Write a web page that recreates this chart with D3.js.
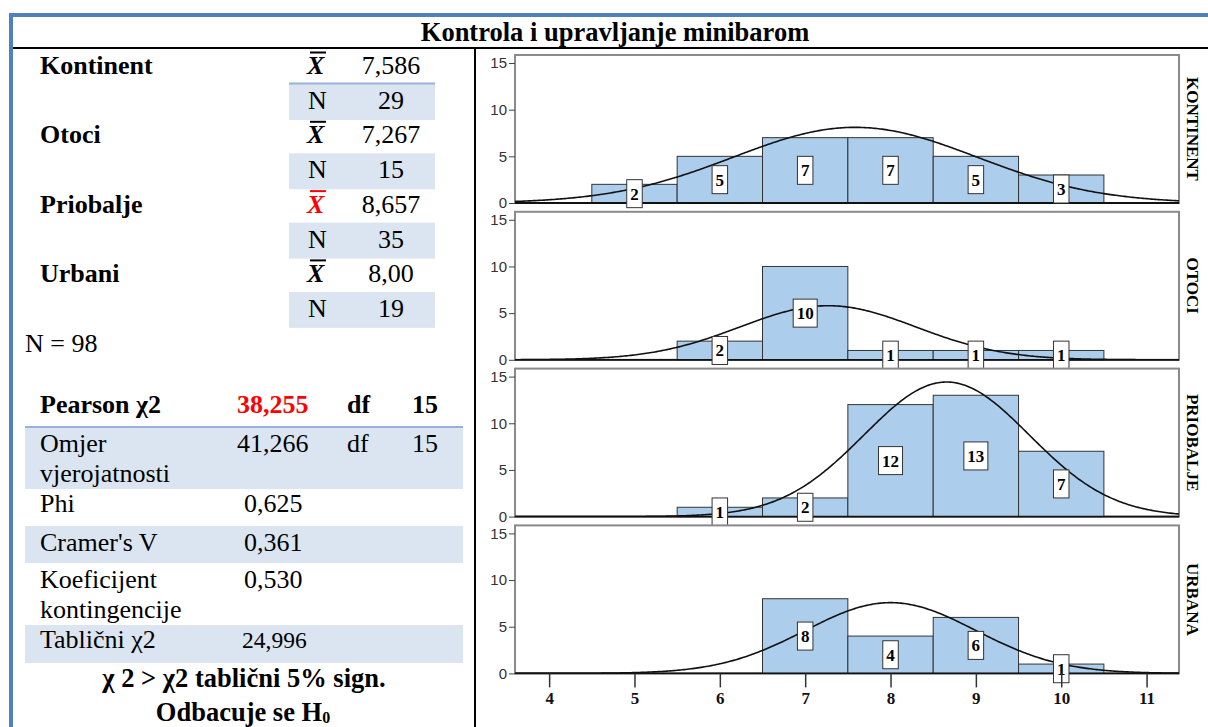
<!DOCTYPE html>
<html>
<head>
<meta charset="utf-8">
<script src="https://cdn.jsdelivr.net/npm/d3@7"></script>
<style>
  html, body { margin: 0; padding: 0; background: #fff; }
  svg { display: block; }
  .serif, .serif text { font-family: "Liberation Serif", "Times New Roman", Tinos, "DejaVu Serif", "Noto Serif", serif !important; }
  .sans, .sans text { font-family: "Liberation Sans", Arial, "DejaVu Sans", sans-serif !important; }
  .yax text { font-size: 15px !important; fill: #333; }
  .xax text { font-size: 17px !important; font-weight: bold; fill: #111; }
</style>
</head>
<body>
<svg id="chart" width="1208" height="727"></svg>
<script>
// ---------------- DATA ----------------
const title = "Kontrola i upravljanje minibarom";
const groups = ["Kontinent", "Otoci", "Priobalje", "Urbani"];
const groupMeans = ["7,586", "7,267", "8,657", "8,00"];
const groupN = ["29", "15", "35", "19"];
const totalN = "N = 98";

const statLabels = [["Omjer", "vjerojatnosti"], ["Phi"], ["Cramer's V"], ["Koeficijent", "kontingencije"], ["Tablični χ2"]];
const statValues = ["41,266", "0,625", "0,361", "0,530", "24,996"];
const statDf = ["15", "", "", "", ""];
const pearsonValue = "38,255";
const pearsonDf = "15";

const panelNames = ["KONTINENT", "OTOCI", "PRIOBALJE", "URBANA"];
const grades = [4, 5, 6, 7, 8, 9, 10, 11];          // x tick labels
const binValues = [5, 6, 7, 8, 9, 10];               // histogram bins (width 1)
const countsKontinent = [2, 5, 7, 7, 5, 3];
const countsOtoci     = [0, 2, 10, 1, 1, 1];
const countsPriobalje = [0, 1, 2, 12, 13, 7];
const countsUrbana    = [0, 0, 8, 4, 6, 1];
const panelCounts = [countsKontinent, countsOtoci, countsPriobalje, countsUrbana];
const yTicks = [0, 5, 10, 15];

// ---------------- DRAW ----------------
const svg = d3.select("#chart");
const blue = "#4f81bd", band = "#dbe5f1", bandLine = "#95b3d7";

// outer border & title
svg.append("rect").attr("x", 9).attr("y", 13).attr("width", 1199).attr("height", 4).attr("fill", blue);
svg.append("rect").attr("x", 9).attr("y", 13).attr("width", 4).attr("height", 714).attr("fill", blue);
svg.append("text").attr("class", "serif").attr("x", 615).attr("y", 41).attr("text-anchor", "middle")
  .attr("font-size", 26.5).attr("font-weight", "bold").text(title);
svg.append("line").attr("x1", 13).attr("x2", 1208).attr("y1", 48).attr("y2", 48).attr("stroke", "#000").attr("stroke-width", 2);
svg.append("line").attr("x1", 475).attr("x2", 475).attr("y1", 48).attr("y2", 727).attr("stroke", "#000").attr("stroke-width", 2);

// ---- left table: group means ----
const L = svg.append("g").attr("class", "serif");
const rowStep = 69.3;
groups.forEach((g, i) => {
  const by = 74 + i * rowStep;
  L.append("rect").attr("x", 289).attr("y", by + 10).attr("width", 146).attr("height", 36).attr("fill", band);
  if (i === 0) L.append("line").attr("x1", 289).attr("x2", 435).attr("y1", by + 9.5).attr("y2", by + 9.5).attr("stroke", bandLine).attr("stroke-width", 2);
  L.append("text").attr("x", 40).attr("y", by).attr("font-size", 26).attr("font-weight", "bold").text(g);
  const red = i === 2;
  L.append("text").attr("x", 307).attr("y", by).attr("font-size", 26).attr("font-weight", "bold")
    .attr("font-style", "italic").attr("fill", red ? "#ff0000" : "#000").text("X");
  L.append("line").attr("x1", 310).attr("x2", 326).attr("y1", by - 21.5).attr("y2", by - 21.5)
    .attr("stroke", red ? "#ff0000" : "#000").attr("stroke-width", 2);
  L.append("text").attr("x", 391).attr("y", by).attr("text-anchor", "middle").attr("font-size", 26).text(groupMeans[i]);
  L.append("text").attr("x", 308).attr("y", by + 35).attr("font-size", 26).text("N");
  L.append("text").attr("x", 391).attr("y", by + 35).attr("text-anchor", "middle").attr("font-size", 26).text(groupN[i]);
});
L.append("text").attr("x", 25).attr("y", 352).attr("font-size", 26).text(totalN);

// ---- left table: chi-square stats ----
L.append("text").attr("x", 40).attr("y", 413).attr("font-size", 26).attr("font-weight", "bold").text("Pearson χ2");
L.append("text").attr("x", 237).attr("y", 413).attr("font-size", 26).attr("font-weight", "bold").attr("fill", "#ff0000").text(pearsonValue);
L.append("text").attr("x", 347).attr("y", 413).attr("font-size", 26).attr("font-weight", "bold").text("df");
L.append("text").attr("x", 412).attr("y", 413).attr("font-size", 26).attr("font-weight", "bold").text(pearsonDf);

const statRows = [
  {top: 427, bot: 489, base: 452, shaded: true},
  {top: 489, bot: 526, base: 512, shaded: false},
  {top: 526, bot: 563, base: 551, shaded: true},
  {top: 563, bot: 625, base: 588, shaded: false},
  {top: 625, bot: 663, base: 648, shaded: true}
];
statRows.forEach((r) => {
  if (r.shaded) L.append("rect").attr("x", 25).attr("y", r.top).attr("width", 438).attr("height", r.bot - r.top).attr("fill", band);
});
L.append("line").attr("x1", 25).attr("x2", 463).attr("y1", 427).attr("y2", 427).attr("stroke", bandLine).attr("stroke-width", 2);
statRows.forEach((r, i) => {
  statLabels[i].forEach((t, k) => {
    L.append("text").attr("x", 40).attr("y", r.base + k * 30).attr("font-size", 26).text(t);
  });
  const small = i === 4;
  L.append("text").attr("x", i === 0 ? 237 : (small ? 242 : 244)).attr("y", r.base)
    .attr("font-size", small ? 23.5 : 26).text(statValues[i]);
  if (statDf[i]) {
    L.append("text").attr("x", 347).attr("y", r.base).attr("font-size", 26).text("df");
    L.append("text").attr("x", 412).attr("y", r.base).attr("font-size", 26).text(statDf[i]);
  }
});
L.append("text").attr("x", 244).attr("y", 687).attr("text-anchor", "middle").attr("font-size", 26.5).attr("font-weight", "bold")
  .text("χ 2 > χ2 tablični 5% sign.");
const h0 = L.append("text").attr("x", 243).attr("y", 721).attr("text-anchor", "middle").attr("font-size", 26.5).attr("font-weight", "bold");
h0.append("tspan").text("Odbacuje se H");
h0.append("tspan").attr("font-size", 16).attr("dy", 2).text("0");

// ---- right: histogram panels ----
const x = d3.scaleLinear().domain([3.6, 11.38]).range([515, 1179]);
const frameL = 515, frameR = 1179;
const barFill = "#adcdec";

panelCounts.forEach((counts, p) => {
  const y0 = 203 + p * 156.8;
  const y = d3.scaleLinear().domain([0, 15]).range([y0, y0 - 140]);
  const g = svg.append("g");
  const clipId = "clip" + p;
  svg.append("clipPath").attr("id", clipId).append("rect")
    .attr("x", frameL).attr("y", y0 - 148).attr("width", frameR - frameL).attr("height", 148);

  g.append("rect").attr("x", frameL).attr("y", y0 - 148).attr("width", frameR - frameL).attr("height", 148)
    .attr("fill", "#fff").attr("stroke", "#8a8a8a").attr("stroke-width", 2);

  const data = binValues.map((v, i) => ({v, c: counts[i]})).filter(d => d.c > 0);
  g.selectAll("rect.bar").data(data).join("rect").attr("class", "bar")
    .attr("x", d => x(d.v - 0.5)).attr("width", d => x(d.v + 0.5) - x(d.v - 0.5))
    .attr("y", d => y(d.c)).attr("height", d => y(0) - y(d.c))
    .attr("fill", barFill).attr("stroke", "#333").attr("stroke-width", 1);

  // normal curve fitted to the histogram's mean and sd
  const expanded = [];
  binValues.forEach((v, i) => { for (let k = 0; k < counts[i]; k++) expanded.push(v); });
  const mu = d3.mean(expanded), sd = d3.deviation(expanded), n = expanded.length;
  const xs = d3.range(3.6, 11.4, 0.02);
  const line = d3.line().x(d => x(d)).y(d => y(n / (sd * Math.sqrt(2 * Math.PI)) * Math.exp(-0.5 * ((d - mu) / sd) ** 2)));
  g.append("path").datum(xs).attr("d", line).attr("fill", "none").attr("stroke", "#111").attr("stroke-width", 1.6)
    .attr("clip-path", `url(#${clipId})`);

  g.append("line").attr("x1", frameL).attr("x2", frameR).attr("y1", y0).attr("y2", y0).attr("stroke", "#111").attr("stroke-width", 1.8);

  const lab = g.selectAll("g.lab").data(data).join("g").attr("class", "lab serif")
    .attr("transform", d => `translate(${x(d.v)},${y(d.c / 2)})`);
  lab.append("rect").attr("x", d => -(String(d.c).length * 8.5 + 7) / 2).attr("y", -14)
    .attr("width", d => String(d.c).length * 8.5 + 7).attr("height", 28)
    .attr("fill", "#fff").attr("stroke", "#333").attr("stroke-width", 1);
  lab.append("text").attr("text-anchor", "middle").attr("y", 6)
    .attr("font-size", 17).attr("font-weight", "bold").text(d => d.c);

  const ya = g.append("g").attr("class", "sans yax").attr("transform", `translate(${frameL},0)`)
    .call(d3.axisLeft(y).tickValues(yTicks).tickSize(6).tickPadding(2));
  ya.select(".domain").remove();
  ya.selectAll("line").attr("stroke", "#444");
  ya.selectAll("text").style("font-size", "15px");

  g.append("text").attr("class", "serif")
    .attr("transform", `translate(1193,${y0 - 74}) rotate(90)`)
    .attr("text-anchor", "middle").attr("dy", "0.35em")
    .attr("font-size", 17).attr("font-weight", "bold").text(panelNames[p]);

  if (p === panelCounts.length - 1) {
    const xa = g.append("g").attr("class", "serif xax").attr("transform", `translate(0,${y0})`)
      .call(d3.axisBottom(x).tickValues(grades).tickSize(14).tickPadding(5).tickFormat(d3.format("d")));
    xa.select(".domain").remove();
    xa.selectAll("line").attr("stroke", "#333").attr("stroke-width", 1.5);
    xa.selectAll("text").style("font-size", "17px").style("font-weight", "bold");
  }
});
</script>
</body>
</html>
